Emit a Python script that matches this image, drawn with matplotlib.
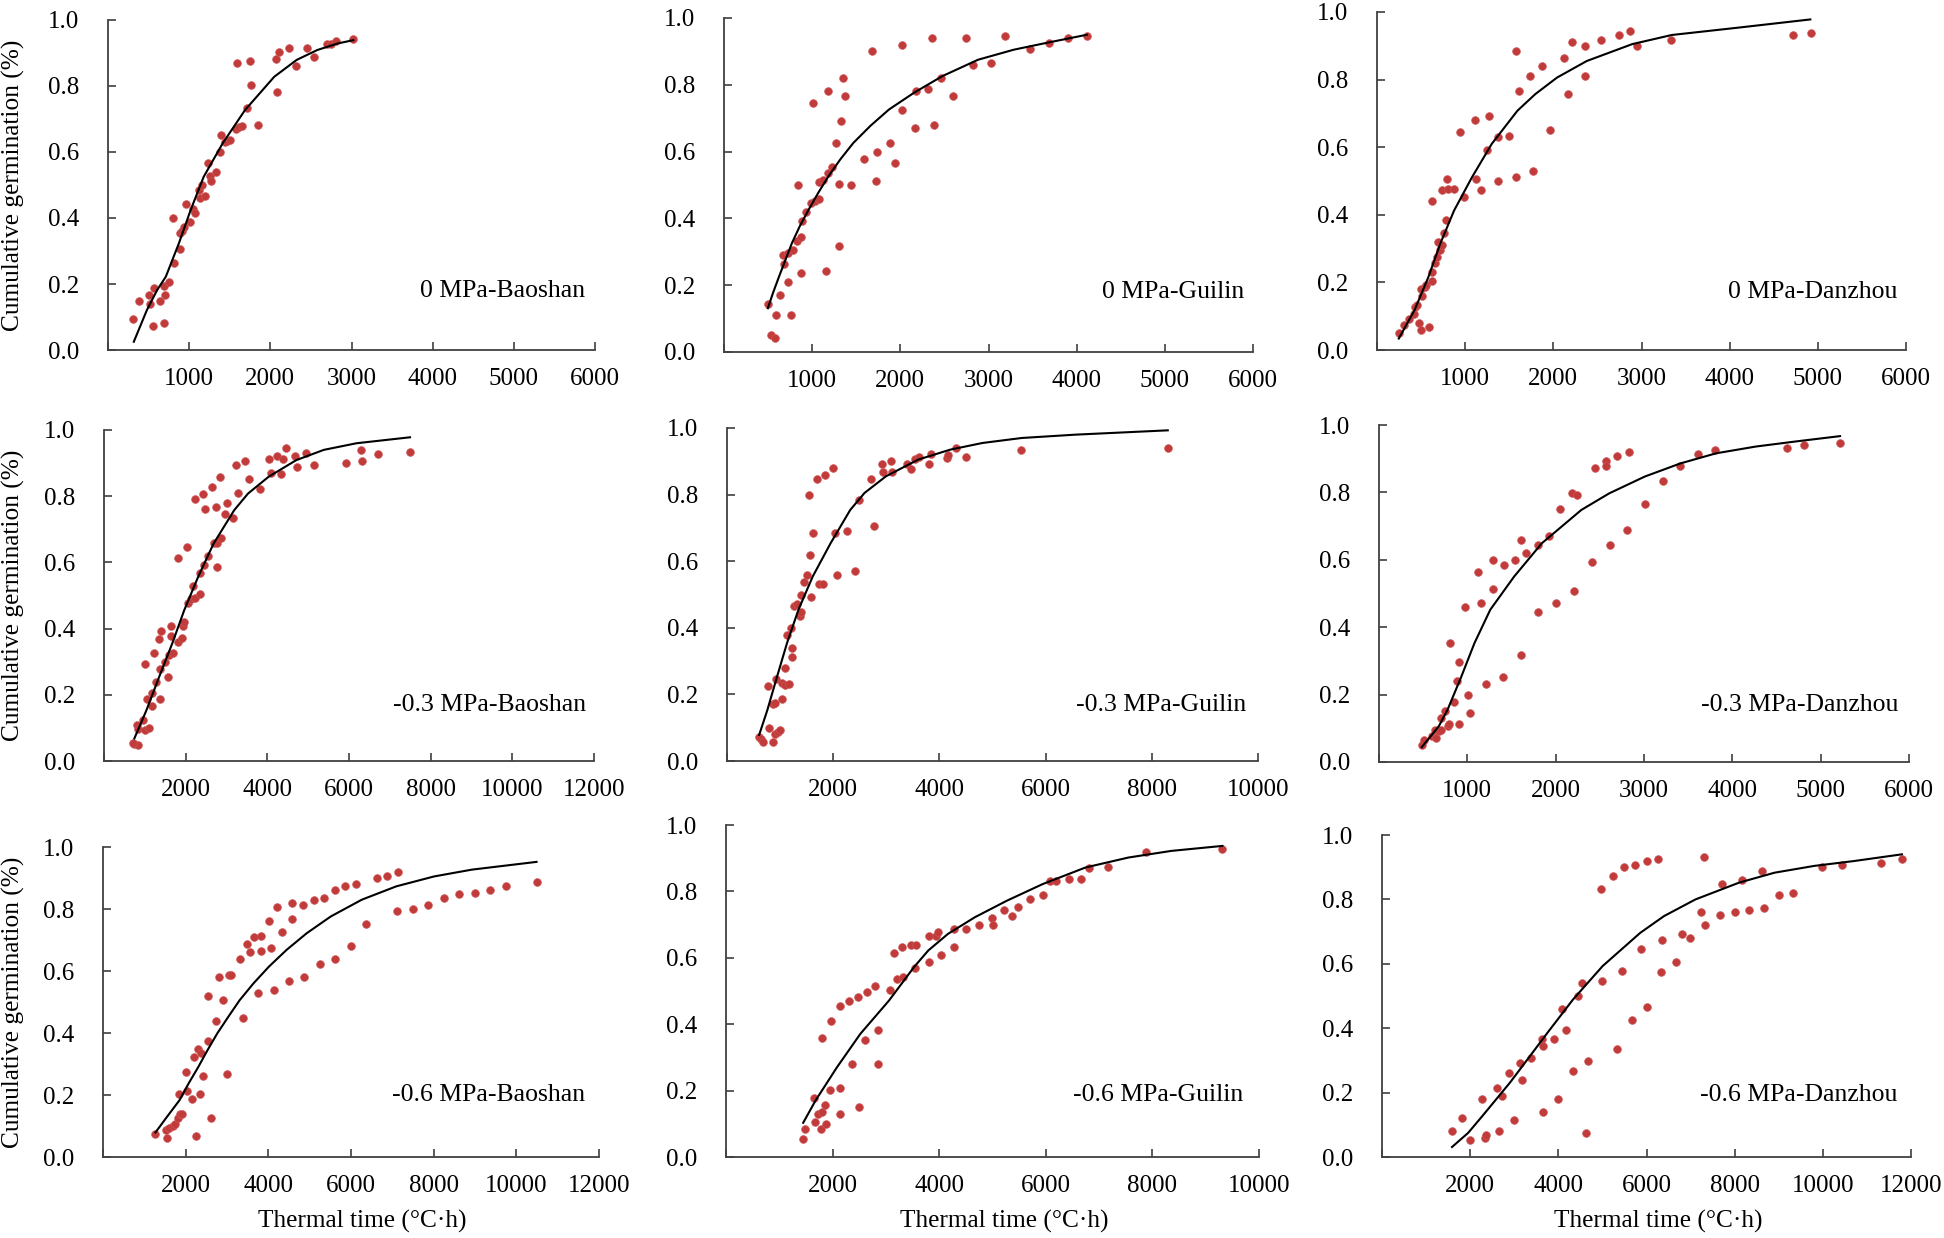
import matplotlib
matplotlib.use("Agg")
import matplotlib.pyplot as plt

plt.rcParams["font.family"] = ["Liberation Serif", "DejaVu Serif"]

# ---- data (thermal time in degC*h, cumulative germination) ----

# 0 MPa-Baoshan
b0_tt = [310, 382, 500, 522, 564, 555, 636, 691, 704, 691, 755, 797, 814, 882, 882, 916, 937, 958,
         1009, 1052, 1073, 1115, 1136, 1158, 1200, 1230, 1255, 1272, 1327, 1382, 1391, 1442, 1467,
         1509, 1573, 1594, 1615, 1645, 1709, 1751, 1760, 1849, 2069, 2082, 2103, 2226, 2311, 2455,
         2540, 2697, 2748, 2811, 3015]
b0_g = [0.093, 0.147, 0.167, 0.139, 0.187, 0.074, 0.147, 0.194, 0.166, 0.081, 0.207, 0.400, 0.263,
        0.307, 0.354, 0.361, 0.374, 0.441, 0.388, 0.426, 0.414, 0.485, 0.460, 0.500, 0.467, 0.568,
        0.528, 0.513, 0.540, 0.601, 0.653, 0.630, 0.633, 0.635, 0.669, 0.869, 0.675, 0.680, 0.733,
        0.876, 0.802, 0.681, 0.883, 0.781, 0.902, 0.915, 0.862, 0.915, 0.887, 0.927, 0.927, 0.936,
        0.941]
b0_fit_tt = [318, 479, 606, 712, 873, 1018, 1179, 1412, 1688, 2048, 2324, 2578, 2832, 3023]
b0_fit_g = [0.025, 0.121, 0.182, 0.222, 0.323, 0.424, 0.525, 0.626, 0.727, 0.828, 0.879, 0.909,
            0.929, 0.939]

# 0 MPa-Guilin
g0_tt = [497, 529, 578, 586, 638, 723, 683, 760, 667, 731, 788, 828, 869, 869, 844, 881, 929, 982,
         1030, 1083, 1083, 1123, 1156, 1176, 1176, 1224, 1010, 1273, 1305, 1305, 1325, 1345, 1374,
         1446, 1592, 1681, 1737, 1729, 1883, 1943, 2020, 2024, 2162, 2174, 2319, 2356, 2384, 2465,
         2598, 2747, 2820, 3034, 3184, 3467, 3689, 3903, 4117]
g0_g = [0.145, 0.050, 0.043, 0.111, 0.170, 0.210, 0.264, 0.111, 0.291, 0.297, 0.305, 0.332, 0.344,
        0.237, 0.499, 0.392, 0.419, 0.447, 0.452, 0.459, 0.510, 0.516, 0.244, 0.536, 0.780, 0.553,
        0.746, 0.626, 0.504, 0.317, 0.693, 0.820, 0.766, 0.499, 0.578, 0.900, 0.599, 0.511, 0.626,
        0.565, 0.920, 0.726, 0.672, 0.780, 0.786, 0.940, 0.679, 0.820, 0.766, 0.940, 0.858, 0.866,
        0.947, 0.906, 0.925, 0.940, 0.947]
g0_fit_tt = [497, 560, 626, 700, 772, 862, 962, 1070, 1184, 1320, 1467, 1660, 1871, 2154, 2477,
             2881, 3285, 3648, 3931, 4117]
g0_fit_g = [0.131, 0.180, 0.227, 0.278, 0.327, 0.378, 0.427, 0.477, 0.526, 0.577, 0.626, 0.677,
            0.726, 0.776, 0.826, 0.875, 0.905, 0.925, 0.940, 0.950]

# 0 MPa-Danzhou
d0_tt = [247, 301, 359, 417, 426, 458, 471, 494, 494, 516, 539, 561, 592, 628, 628, 620, 660, 678,
         687, 709, 741, 741, 763, 785, 794, 808, 875, 943, 987, 1109, 1122, 1176, 1243, 1266, 1369,
         1378, 1495, 1580, 1575, 1616, 1741, 1773, 1872, 1966, 2118, 2163, 2217, 2361, 2361, 2536,
         2747, 2864, 2949, 3339, 4722, 4919]
d0_g = [0.051, 0.074, 0.093, 0.106, 0.128, 0.133, 0.079, 0.059, 0.179, 0.159, 0.185, 0.192, 0.069,
        0.205, 0.231, 0.440, 0.256, 0.275, 0.320, 0.295, 0.312, 0.472, 0.346, 0.385, 0.506, 0.477,
        0.477, 0.644, 0.452, 0.680, 0.506, 0.472, 0.592, 0.693, 0.629, 0.500, 0.632, 0.885, 0.511,
        0.765, 0.811, 0.531, 0.839, 0.652, 0.865, 0.757, 0.912, 0.900, 0.811, 0.917, 0.931, 0.944,
        0.898, 0.917, 0.931, 0.938]
d0_fit_tt = [247, 426, 583, 718, 875, 1077, 1302, 1593, 1795, 2042, 2379, 2895, 3344, 4107, 4915]
d0_fit_g = [0.034, 0.118, 0.216, 0.315, 0.413, 0.511, 0.610, 0.708, 0.757, 0.806, 0.855, 0.905,
            0.932, 0.954, 0.978]

# -0.3 MPa-Baoshan
b3_tt = [743, 827, 717, 810, 844, 954, 996, 1106, 1004, 1055, 1181, 1181, 1224, 1274, 1376, 1376,
         1359, 1401, 1485, 1578, 1587, 1629, 1646, 1688, 1823, 1823, 1907, 1924, 1966, 2025, 2051,
         2135, 2219, 2228, 2177, 2363, 2346, 2430, 2447, 2473, 2557, 2641, 2684, 2743, 2760, 2768,
         2844, 2869, 2962, 3021, 3156, 3232, 3291, 3443, 3544, 3831, 4034, 4101, 4245, 4338, 4380,
         4456, 4667, 4734, 4945, 5131, 5916, 6304, 6312, 6701, 7494]
b3_g = [0.052, 0.049, 0.054, 0.108, 0.098, 0.125, 0.095, 0.100, 0.292, 0.188, 0.206, 0.166, 0.326,
        0.239, 0.279, 0.186, 0.369, 0.393, 0.299, 0.253, 0.320, 0.407, 0.378, 0.325, 0.612, 0.360,
        0.372, 0.407, 0.420, 0.646, 0.478, 0.488, 0.491, 0.792, 0.528, 0.506, 0.567, 0.806, 0.592,
        0.760, 0.620, 0.827, 0.659, 0.768, 0.587, 0.659, 0.859, 0.673, 0.745, 0.780, 0.733, 0.893,
        0.809, 0.907, 0.853, 0.821, 0.913, 0.870, 0.920, 0.867, 0.912, 0.946, 0.920, 0.887, 0.930,
        0.894, 0.899, 0.941, 0.906, 0.926, 0.933]
b3_fit_tt = [743, 1038, 1350, 1671, 1966, 2304, 2684, 3190, 3527, 4034, 4709, 5384, 6186, 7494]
b3_fit_g = [0.068, 0.153, 0.254, 0.355, 0.456, 0.556, 0.657, 0.758, 0.808, 0.859, 0.909, 0.940,
            0.960, 0.978]

# -0.3 MPa-Guilin
g3_tt = [605, 639, 686, 861, 787, 908, 955, 996, 774, 875, 908, 922, 1043, 1029, 1097, 1164, 1083,
         1123, 1204, 1231, 1218, 1271, 1325, 1366, 1399, 1399, 1453, 1507, 1581, 1567, 1541, 1621,
         1688, 1736, 1816, 1850, 1998, 2025, 2072, 2254, 2415, 2489, 2711, 2765, 2926, 2940, 3081,
         3115, 3384, 3464, 3532, 3612, 3801, 3841, 4150, 4157, 4312, 4494, 5536, 8301]
g3_g = [0.073, 0.065, 0.058, 0.058, 0.099, 0.081, 0.087, 0.093, 0.225, 0.172, 0.173, 0.245, 0.185,
        0.233, 0.227, 0.231, 0.279, 0.379, 0.399, 0.313, 0.339, 0.464, 0.471, 0.434, 0.446, 0.499,
        0.539, 0.559, 0.491, 0.618, 0.800, 0.685, 0.847, 0.533, 0.533, 0.860, 0.880, 0.685, 0.559,
        0.692, 0.572, 0.785, 0.847, 0.706, 0.893, 0.867, 0.900, 0.867, 0.893, 0.877, 0.906, 0.914,
        0.893, 0.921, 0.909, 0.920, 0.941, 0.913, 0.933, 0.939]
g3_fit_tt = [605, 760, 942, 1130, 1345, 1614, 1951, 2321, 2590, 2994, 3599, 4204, 4810, 5550, 6559,
             8301]
g3_fit_g = [0.078, 0.153, 0.253, 0.354, 0.454, 0.554, 0.654, 0.754, 0.805, 0.855, 0.905, 0.935,
            0.955, 0.970, 0.980, 0.993]

# -0.3 MPa-Danzhou
d3_tt = [484, 511, 601, 632, 646, 677, 704, 700, 744, 776, 798, 848, 879, 901, 906, 807, 969, 1004,
         1027, 1125, 1157, 1206, 1287, 1287, 1404, 1417, 1543, 1610, 1610, 1668, 1798, 1803, 1928,
         2009, 2054, 2188, 2211, 2247, 2408, 2444, 2569, 2569, 2610, 2699, 2811, 2829, 3013, 3211,
         3412, 3610, 3807, 4614, 4811, 5219]
d3_g = [0.051, 0.064, 0.078, 0.096, 0.071, 0.091, 0.094, 0.130, 0.150, 0.106, 0.113, 0.177, 0.239,
        0.113, 0.298, 0.353, 0.459, 0.200, 0.145, 0.565, 0.473, 0.232, 0.600, 0.513, 0.252, 0.585,
        0.600, 0.659, 0.318, 0.620, 0.644, 0.445, 0.671, 0.473, 0.752, 0.799, 0.506, 0.793, 0.592,
        0.873, 0.894, 0.878, 0.645, 0.907, 0.687, 0.919, 0.766, 0.834, 0.879, 0.914, 0.927, 0.933,
        0.940, 0.946]
d3_fit_tt = [484, 677, 776, 933, 1081, 1260, 1529, 1843, 2291, 2605, 3009, 3412, 3816, 4264, 4713,
             5219]
d3_fit_g = [0.044, 0.106, 0.155, 0.254, 0.353, 0.452, 0.550, 0.649, 0.748, 0.797, 0.847, 0.886,
            0.916, 0.936, 0.951, 0.967]

# -0.6 MPa-Baoshan
b6_tt = [1268, 1559, 1517, 1601, 1684, 1750, 1809, 1834, 1868, 1900, 2008, 2042, 2158, 2191, 2258,
         2291, 2341, 2366, 2416, 2549, 2549, 2624, 2741, 2807, 2915, 2999, 3057, 3099, 3307, 3382,
         3473, 3565, 3657, 3748, 3815, 3831, 4006, 4073, 4131, 4206, 4331, 4497, 4572, 4580, 4838,
         4872, 5105, 5246, 5354, 5612, 5620, 5862, 5995, 6112, 6369, 6619, 6877, 7110, 7127, 7493,
         7868, 8242, 8608, 8991, 9366, 9740, 10489]
b6_g = [0.075, 0.061, 0.088, 0.094, 0.099, 0.106, 0.126, 0.203, 0.140, 0.140, 0.273, 0.213, 0.188,
        0.321, 0.068, 0.347, 0.202, 0.334, 0.261, 0.375, 0.520, 0.127, 0.440, 0.581, 0.506, 0.268,
        0.587, 0.587, 0.640, 0.447, 0.688, 0.661, 0.709, 0.528, 0.666, 0.713, 0.761, 0.673, 0.539,
        0.807, 0.727, 0.568, 0.820, 0.767, 0.813, 0.581, 0.828, 0.621, 0.834, 0.860, 0.640, 0.873,
        0.680, 0.880, 0.753, 0.900, 0.906, 0.793, 0.920, 0.800, 0.813, 0.834, 0.847, 0.853, 0.860,
        0.873, 0.887]
b6_fit_tt = [1268, 1550, 1850, 2070, 2308, 2530, 2766, 3030, 3307, 3640, 4014, 4440, 4930, 5512,
             6261, 7094, 8009, 8925, 10489]
b6_fit_g = [0.079, 0.130, 0.183, 0.237, 0.291, 0.345, 0.399, 0.452, 0.506, 0.560, 0.614, 0.668,
            0.722, 0.776, 0.830, 0.873, 0.905, 0.927, 0.952]

# -0.6 MPa-Guilin
g6_tt = [1448, 1482, 1649, 1663, 1730, 1784, 1810, 1797, 1864, 1884, 1944, 1978, 2132, 2139, 2139,
         2313, 2367, 2481, 2501, 2601, 2642, 2803, 2850, 2856, 3078, 3145, 3212, 3306, 3326, 3466,
         3567, 3554, 3802, 3808, 3943, 3983, 4036, 4271, 4285, 4512, 4747, 4995, 5002, 5223, 5364,
         5471, 5706, 5947, 6088, 6188, 6443, 6658, 6805, 7161, 7878, 9313]
g6_g = [0.053, 0.084, 0.177, 0.105, 0.131, 0.084, 0.359, 0.136, 0.157, 0.099, 0.201, 0.411, 0.209,
        0.131, 0.456, 0.471, 0.281, 0.482, 0.150, 0.351, 0.497, 0.516, 0.384, 0.281, 0.503, 0.613,
        0.535, 0.633, 0.543, 0.640, 0.640, 0.568, 0.588, 0.665, 0.665, 0.679, 0.607, 0.633, 0.686,
        0.686, 0.699, 0.719, 0.699, 0.745, 0.725, 0.752, 0.778, 0.790, 0.830, 0.830, 0.836, 0.836,
        0.870, 0.875, 0.920, 0.927]
g6_fit_tt = [1448, 1683, 2085, 2521, 3057, 3527, 3795, 4164, 4667, 5270, 5941, 6745, 7550, 8355,
             9313]
g6_fit_g = [0.103, 0.171, 0.271, 0.371, 0.471, 0.572, 0.622, 0.672, 0.722, 0.772, 0.822, 0.872,
            0.902, 0.922, 0.937]

# -0.6 MPa-Danzhou
d6_tt = [1588, 1812, 2000, 2260, 2341, 2359, 2619, 2655, 2718, 2870, 2996, 3130, 3184, 3390, 3632,
         3641, 3659, 3910, 3991, 4081, 4180, 4332, 4440, 4529, 4628, 4673, 4960, 4987, 5229, 5337,
         5435, 5489, 5669, 5749, 5884, 6000, 6000, 6260, 6332, 6359, 6664, 6798, 6996, 7247, 7310,
         7337, 7669, 7713, 8000, 8162, 8332, 8610, 8664, 8996, 9328, 9982, 10431, 11328, 11794]
d6_g = [0.080, 0.120, 0.053, 0.180, 0.059, 0.067, 0.215, 0.080, 0.189, 0.260, 0.114, 0.292, 0.239,
        0.308, 0.367, 0.346, 0.140, 0.367, 0.180, 0.460, 0.393, 0.266, 0.501, 0.540, 0.075, 0.299,
        0.833, 0.547, 0.874, 0.334, 0.579, 0.901, 0.427, 0.907, 0.647, 0.920, 0.466, 0.926, 0.573,
        0.673, 0.607, 0.694, 0.680, 0.760, 0.933, 0.720, 0.753, 0.848, 0.760, 0.860, 0.766, 0.887,
        0.773, 0.813, 0.820, 0.901, 0.907, 0.914, 0.926]
d6_fit_tt = [1588, 1955, 2269, 2583, 2897, 3184, 3749, 4332, 5005, 5857, 6395, 7112, 8099, 8906,
             9803, 10700, 11794]
d6_fit_g = [0.031, 0.075, 0.126, 0.178, 0.230, 0.282, 0.385, 0.489, 0.593, 0.696, 0.748, 0.800,
            0.852, 0.883, 0.904, 0.919, 0.940]

labels = ["0 MPa-Baoshan", "0 MPa-Guilin", "0 MPa-Danzhou",
          "-0.3 MPa-Baoshan", "-0.3 MPa-Guilin", "-0.3 MPa-Danzhou",
          "-0.6 MPa-Baoshan", "-0.6 MPa-Guilin", "-0.6 MPa-Danzhou"]
x_max = [6000, 6000, 6000, 12000, 10000, 6000, 12000, 10000, 12000]
x_step = [1000, 1000, 1000, 2000, 2000, 1000, 2000, 2000, 2000]

series = [(b0_tt, b0_g, b0_fit_tt, b0_fit_g), (g0_tt, g0_g, g0_fit_tt, g0_fit_g),
          (d0_tt, d0_g, d0_fit_tt, d0_fit_g), (b3_tt, b3_g, b3_fit_tt, b3_fit_g),
          (g3_tt, g3_g, g3_fit_tt, g3_fit_g), (d3_tt, d3_g, d3_fit_tt, d3_fit_g),
          (b6_tt, b6_g, b6_fit_tt, b6_fit_g), (g6_tt, g6_g, g6_fit_tt, g6_fit_g),
          (d6_tt, d6_g, d6_fit_tt, d6_fit_g)]

# ---- layout: axes boxes in pixels (left, right, top, bottom) of a 1944x1238 canvas ----
W, H = 1944, 1238
boxes = [(108, 595, 20, 350), (724, 1253, 18, 352), (1377, 1906, 12, 350),
         (104, 594, 430, 761), (727, 1258, 428, 761), (1379, 1909, 425, 762),
         (103, 599, 847, 1157), (726, 1259, 825, 1157), (1382, 1911, 835, 1157)]
label_pos = [(0.98, 0.18), (0.983, 0.18), (0.984, 0.172),
             (0.983, 0.168), (0.977, 0.168), (0.98, 0.17),
             (0.973, 0.199), (0.97, 0.186), (0.974, 0.194)]

dot_color = "#C23B3B"
axis_color = "#404040"
fs = 18

fig = plt.figure(figsize=(W / 100, H / 100), dpi=100)

for i, (tt, g, ftt, fg) in enumerate(series):
    l, r, t, b = boxes[i]
    ax = fig.add_axes([l / W, 1 - b / H, (r - l) / W, (b - t) / H])
    ax.scatter(tt, g, s=32, color=dot_color, edgecolors="#CF5A5A", linewidths=0.4, zorder=2)
    ax.plot(ftt, fg, color="black", lw=1.5, zorder=3)

    ax.set_xlim(0, x_max[i])
    ax.set_ylim(0, 1.0)
    xt = list(range(0, x_max[i] + 1, x_step[i]))
    ax.set_xticks(xt)
    ax.set_xticklabels([""] + [str(v) for v in xt[1:]])
    yt = [0.0, 0.2, 0.4, 0.6, 0.8, 1.0]
    ax.set_yticks(yt)
    ax.set_yticklabels([f"{v:.1f}" for v in yt])

    for side in ["top", "right"]:
        ax.spines[side].set_visible(False)
    for side in ["left", "bottom"]:
        ax.spines[side].set_color(axis_color)
        ax.spines[side].set_linewidth(1.3)
    ax.tick_params(axis="both", direction="in", length=6, width=1.2, color=axis_color,
                   labelsize=fs, labelcolor="black")
    ax.tick_params(axis="x", pad=13)
    ax.tick_params(axis="y", pad=21)
    ax.patch.set_alpha(0)

    lx, ly = label_pos[i]
    ax.text(lx, ly, labels[i], transform=ax.transAxes, ha="right", va="center", fontsize=18.5)

    if i % 3 == 0:
        fig.text(13 / W, 1 - (t + b) / 2 / H, "Cumulative germination (%)",
                 rotation=90, ha="center", va="center", fontsize=18.3)
    if i >= 6:
        fig.text((l + r) / 2 / W + 0.006, 1 - 1221 / H, "Thermal time (\u00b0C\u00b7h)",
                 ha="center", va="center", fontsize=18.3)

fig.savefig("out.png", dpi=100)
